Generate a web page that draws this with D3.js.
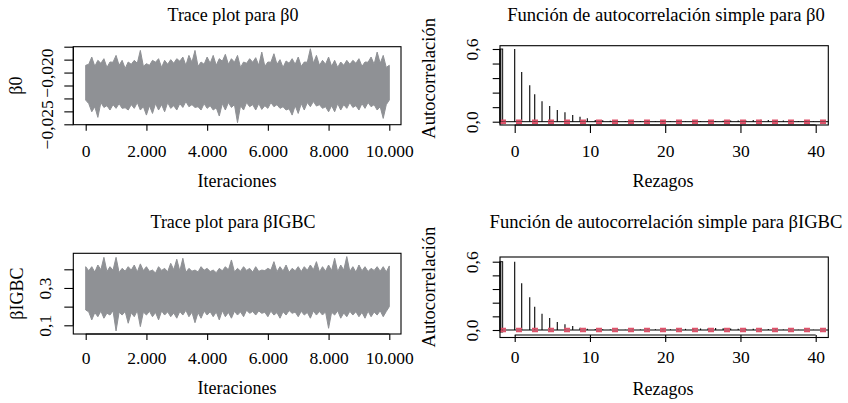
<!DOCTYPE html>
<html>
<head>
<meta charset="utf-8">
<script src="https://cdn.jsdelivr.net/npm/d3@7.9.0/dist/d3.min.js"></script>
<style>
  body { margin: 0; background: #fff; }
  svg text { font-family: "Liberation Serif", "Times New Roman", "DejaVu Serif", serif; fill: #000; }
</style>
</head>
<body>
<svg id="chart" width="848" height="403"></svg>
<script>
// ─────────── DATA ───────────
// trace envelopes: peaks read at every 200 iterations, dips in between
const iterations = [0,200,400,600,800,1000,1200,1400,1600,1800,2000,2200,2400,2600,2800,3000,3200,3400,3600,3800,4000,4200,4400,4600,4800,5000,5200,5400,5600,5800,6000,6200,6400,6600,6800,7000,7200,7400,7600,7800,8000,8200,8400,8600,8800,9000,9200,9400,9600,9800,10000];
const midIterations = [100,300,500,700,900,1100,1300,1500,1700,1900,2100,2300,2500,2700,2900,3100,3300,3500,3700,3900,4100,4300,4500,4700,4900,5100,5300,5500,5700,5900,6100,6300,6500,6700,6900,7100,7300,7500,7700,7900,8100,8300,8500,8700,8900,9100,9300,9500,9700,9900];

const b0Upper = [-0.0193,-0.0185,-0.01882,-0.01866,-0.01898,-0.01834,-0.01882,-0.01898,-0.01882,-0.01786,-0.01914,-0.01882,-0.01866,-0.01882,-0.01875,-0.01866,-0.0185,-0.01834,-0.01786,-0.01898,-0.0185,-0.01834,-0.01866,-0.01824,-0.01866,-0.01834,-0.01898,-0.01866,-0.01856,-0.01802,-0.01898,-0.01818,-0.01875,-0.01888,-0.01866,-0.0185,-0.01898,-0.0177,-0.01834,-0.01882,-0.0185,-0.01882,-0.01898,-0.01882,-0.01882,-0.01866,-0.01898,-0.0185,-0.01802,-0.01834,-0.0193];
const b0UpperMid = [-0.0192,-0.0194,-0.0191,-0.0195,-0.0190,-0.0193,-0.0196,-0.0192,-0.0191,-0.0194,-0.0193,-0.0190,-0.0195,-0.0192,-0.0191,-0.0189,-0.0193,-0.0190,-0.0194,-0.0192,-0.0191,-0.0193,-0.0189,-0.0192,-0.0190,-0.0195,-0.0191,-0.0190,-0.0193,-0.0194,-0.0190,-0.0192,-0.0195,-0.0191,-0.0192,-0.0194,-0.0190,-0.0191,-0.0193,-0.0192,-0.0194,-0.0195,-0.0193,-0.0192,-0.0191,-0.0194,-0.0190,-0.0192,-0.0191,-0.0195];
const b0Lower = [-0.02266,-0.02379,-0.02433,-0.02337,-0.02362,-0.02346,-0.02346,-0.02362,-0.02346,-0.02362,-0.02411,-0.02395,-0.02362,-0.02379,-0.02346,-0.02362,-0.02337,-0.0233,-0.02337,-0.02362,-0.02346,-0.02362,-0.0242,-0.02362,-0.02337,-0.02484,-0.02362,-0.0233,-0.02362,-0.02356,-0.02346,-0.0233,-0.02346,-0.02362,-0.02411,-0.02395,-0.02362,-0.0233,-0.02324,-0.02346,-0.02379,-0.02379,-0.02362,-0.02346,-0.02337,-0.02362,-0.02346,-0.0233,-0.02362,-0.02443,-0.02266];
const b0LowerMid = [-0.0230,-0.0233,-0.0229,-0.0232,-0.0231,-0.0230,-0.0234,-0.0231,-0.0229,-0.0233,-0.0232,-0.0230,-0.0231,-0.0229,-0.0232,-0.0230,-0.0228,-0.0231,-0.0233,-0.0230,-0.0232,-0.0234,-0.0230,-0.0229,-0.0231,-0.0232,-0.0229,-0.0231,-0.0230,-0.0232,-0.0229,-0.0231,-0.0233,-0.0235,-0.0232,-0.0230,-0.0229,-0.0228,-0.0231,-0.0233,-0.0232,-0.0230,-0.0231,-0.0229,-0.0232,-0.0230,-0.0229,-0.0231,-0.0233,-0.0231];

const igbcUpper = [0.414,0.414,0.423,0.464,0.414,0.464,0.405,0.414,0.423,0.429,0.414,0.396,0.414,0.405,0.432,0.454,0.459,0.405,0.396,0.414,0.405,0.396,0.405,0.414,0.45,0.405,0.414,0.405,0.414,0.396,0.405,0.441,0.414,0.423,0.405,0.414,0.414,0.423,0.441,0.414,0.423,0.459,0.423,0.468,0.414,0.423,0.414,0.405,0.414,0.414,0.418];
const igbcUpperMid = [0.392,0.385,0.398,0.388,0.395,0.383,0.390,0.396,0.386,0.393,0.389,0.380,0.394,0.387,0.398,0.391,0.384,0.390,0.386,0.395,0.388,0.382,0.392,0.397,0.386,0.390,0.394,0.385,0.389,0.393,0.396,0.387,0.391,0.384,0.392,0.388,0.395,0.398,0.386,0.390,0.393,0.387,0.396,0.389,0.385,0.392,0.388,0.394,0.390,0.386];
const igbcLower = [0.182,0.129,0.146,0.138,0.155,0.07,0.155,0.111,0.146,0.093,0.155,0.146,0.129,0.155,0.146,0.138,0.155,0.146,0.114,0.138,0.155,0.146,0.129,0.146,0.138,0.155,0.146,0.164,0.155,0.164,0.146,0.155,0.138,0.155,0.164,0.146,0.155,0.138,0.155,0.155,0.084,0.155,0.138,0.146,0.155,0.146,0.138,0.146,0.155,0.146,0.2];
const igbcLowerMid = [0.172,0.168,0.176,0.165,0.178,0.170,0.174,0.167,0.179,0.171,0.175,0.169,0.177,0.172,0.166,0.174,0.180,0.170,0.168,0.176,0.173,0.171,0.178,0.169,0.175,0.172,0.181,0.174,0.177,0.170,0.176,0.168,0.173,0.179,0.171,0.175,0.169,0.177,0.174,0.172,0.170,0.178,0.166,0.175,0.173,0.169,0.176,0.171,0.178,0.174];

// autocorrelation by lag
const lags = [0,0.93,2,2.66,3.63,4.65,5.66,6.68,7.71,8.68,9.65,10.7,11.7,12.7,13.7,14.7,15.7,16.7,17.7,18.7,19.7,20.7,21.7,22.7,23.7,24.7,25.7,26.7,27.7,28.7,29.7,30.7,31.7,32.7,33.7,34.7,35.7,36.7,37.7,38.7,39.7];
const acfB0 = [0.6,0.41,0.30,0.226,0.168,0.13,0.096,0.078,0.055,0.041,0.028,0.015,0.012,0.008,0.006,0.005,0.004,0.006,0.005,0.004,0.006,0.005,0.003,0.004,0.006,0.005,0.004,0.006,0.008,0.009,0.01,0.012,0.014,0.016,0.014,0.012,0.01,0.008,0.006,0.005,0.004];
const acfIgbc = [0.6,0.41,0.287,0.205,0.143,0.105,0.07,0.05,0.035,0.02,0.012,0.008,0.006,0.005,0.004,0.003,0.004,0.005,0.004,0.006,0.005,0.006,0.008,0.01,0.012,0.014,0.016,0.018,0.016,0.014,0.012,0.01,0.012,0.01,0.008,0.006,0.005,0.004,0.003,0.002,0.002];
const ciBound = 0.01;

// ticks and labels
const traceXTicks = [0,2000,4000,6000,8000,10000];
const traceXLabels = ["0","2.000","4.000","6.000","8.000","10.000"];
const b0YTicks = [-0.0175,-0.01875,-0.02,-0.02125,-0.0225,-0.02375,-0.025];
const b0YLabels = {"-0.02": "\u22120,020", "-0.025": "\u22120,025"};
const igbcYTicks = [0.1,0.2,0.3,0.4];
const igbcYLabels = {"0.1": "0,1", "0.3": "0,3"};
const acfXTicks = [0,10,20,30,40];
const acfYTicks = [0,0.12,0.24,0.36,0.48,0.6];
const acfYLabels = {"0": "0,0", "0.6": "0,6"};

const traceColor = "#8f9195";
const ciColor = "#DF536B";
const FONT = '"Liberation Serif", "Times New Roman", "DejaVu Serif", serif';
const FS = 18;      // titles, axis titles
const TFS = 17.5;   // tick labels

const svg = d3.select("#chart");

// ─────────── helpers ───────────
function box(g, b) {
  g.append("rect")
    .attr("x", b.left).attr("y", b.top)
    .attr("width", b.right - b.left).attr("height", b.bottom - b.top)
    .attr("fill", "none").attr("stroke", "#000").attr("stroke-width", 1.1);
}

function bottomAxis(g, x, ticks, labels, yPos, tickLen, baseline) {
  const ax = g.append("g")
    .attr("transform", `translate(0,${yPos})`)
    .call(d3.axisBottom(x).tickValues(ticks).tickSize(tickLen).tickSizeOuter(0)
      .tickFormat((d, i) => labels[i]));
  ax.select(".domain").attr("d", `M${x(ticks[0])},0H${x(ticks[ticks.length - 1])}`)
    .attr("stroke-width", 1.1);
  ax.selectAll(".tick line").attr("stroke-width", 1.1);
  ax.selectAll(".tick text").attr("y", baseline).attr("dy", null)
    .style("font-family", FONT).style("font-size", TFS + "px");
}

function leftAxis(g, y, ticks, labels, xPos, tickLen, offset) {
  const ax = g.append("g")
    .attr("transform", `translate(${xPos},0)`)
    .call(d3.axisLeft(y).tickValues(ticks).tickSize(tickLen).tickSizeOuter(0)
      .tickFormat(d => labels[String(d)] || ""));
  ax.select(".domain").attr("d", `M0,${y(ticks[0])}V${y(ticks[ticks.length - 1])}`)
    .attr("stroke-width", 1.1);
  ax.selectAll(".tick line").attr("stroke-width", 1.1);
  ax.selectAll(".tick text")
    .attr("x", null).attr("dy", null).attr("y", null)
    .attr("text-anchor", "middle")
    .attr("transform", `translate(${-offset},0) rotate(-90)`)
    .style("font-family", FONT).style("font-size", TFS + "px");
}

function label(text, x, y, rotate, size) {
  svg.append("text")
    .attr("text-anchor", "middle")
    .attr("transform", `translate(${x},${y})` + (rotate ? " rotate(-90)" : ""))
    .style("font-family", FONT).style("font-size", (size || FS) + "px")
    .text(text);
}

// ─────────── TRACE PLOTS ───────────
function drawTrace(o) {
  const g = svg.append("g");
  const x = d3.scaleLinear().domain([0, 10000]).range([85.7, 389.3]);
  const y = d3.scaleLinear().domain(o.yDomain).range(o.yRange);

  // peaks and dips merged in iteration order
  const pts = iterations.map((it, i) => ({ it, hi: o.upper[i], lo: o.lower[i] }))
    .concat(midIterations.map((it, i) => ({ it, hi: o.upperMid[i], lo: o.lowerMid[i] })))
    .sort((a, b) => a.it - b.it);

  const area = d3.area()
    .x(d => x(d.it))
    .y0(d => y(d.lo))
    .y1(d => y(d.hi));

  g.append("path")
    .datum(pts)
    .attr("d", area)
    .attr("fill", traceColor)
    .attr("stroke", traceColor)
    .attr("stroke-width", 1)
    .attr("stroke-linejoin", "miter")
    .attr("stroke-miterlimit", 10);

  box(g, o.box);
  bottomAxis(g, x, traceXTicks, traceXLabels, o.box.bottom, 6, o.xTickBase);
  leftAxis(g, y, o.yTicks, o.yLabels, o.box.left, 9, o.yTickOff);

  label(o.title, 233, o.titleY);
  label("Iteraciones", 237, o.xlabY);
  label(o.ylab, o.ylabX, (o.box.top + o.box.bottom) / 2, true);
}

drawTrace({
  box: { left: 73.3, top: 46.7, right: 401, bottom: 124.7 },
  yDomain: [-0.025, -0.0175], yRange: [124.3, 46.7],
  upper: b0Upper, lower: b0Lower, upperMid: b0UpperMid, lowerMid: b0LowerMid,
  yTicks: b0YTicks, yLabels: b0YLabels, yTickOff: 20.5,
  xTickBase: 32, title: "Trace plot para \u03b20", titleY: 20.7,
  xlabY: 186.7, ylab: "\u03b20", ylabX: 22
});

drawTrace({
  box: { left: 73.3, top: 253.3, right: 401, bottom: 334 },
  yDomain: [0.1, 0.4], yRange: [325.3, 269.3],
  upper: igbcUpper, lower: igbcLower, upperMid: igbcUpperMid, lowerMid: igbcLowerMid,
  yTicks: igbcYTicks, yLabels: igbcYLabels, yTickOff: 22,
  xTickBase: 29.5, title: "Trace plot para \u03b2IGBC", titleY: 228.3,
  xlabY: 394.3, ylab: "\u03b2IGBC", ylabX: 22.5
});

// ─────────── ACF PLOTS ───────────
function drawAcf(o) {
  const g = svg.append("g");
  const b = o.box;
  const x = d3.scaleLinear().domain([0, 40]).range([514.7, 815.7]);
  const y = d3.scaleLinear().domain([0, 0.6]).range(o.yRange);

  // left edge band
  g.append("rect")
    .attr("x", b.left).attr("y", y(0.6))
    .attr("width", 2.7).attr("height", y(0) - y(0.6) + 2)
    .attr("fill", "#a9a9a9").attr("stroke", "#000").attr("stroke-width", 0.9);

  g.selectAll("line.bar")
    .data(o.values)
    .join("line")
    .attr("class", "bar")
    .attr("x1", (d, i) => x(lags[i])).attr("x2", (d, i) => x(lags[i]))
    .attr("y1", y(0)).attr("y2", d => y(d))
    .attr("stroke", "#000").attr("stroke-width", 1.1);

  g.append("line")
    .attr("x1", b.left).attr("x2", b.right)
    .attr("y1", y(0)).attr("y2", y(0))
    .attr("stroke", "#000").attr("stroke-width", 1);

  [ciBound, -ciBound].forEach(c => {
    g.append("line")
      .attr("x1", b.left).attr("x2", b.right)
      .attr("y1", y(c)).attr("y2", y(c))
      .attr("stroke", ciColor).attr("stroke-width", 2)
      .attr("stroke-dasharray", "6,10");
  });

  box(g, b);
  bottomAxis(g, x, acfXTicks, acfXTicks.map(String), o.axisY, o.xTickLen, o.xTickBase);
  leftAxis(g, y, acfYTicks, acfYLabels, b.left, 7.3, 22);

  label(o.title, 666, o.titleY, false, 18.6);
  label("Rezagos", 663, o.xlabY);
  label("Autocorrelaci\u00f3n", 435, o.ylabY, true, 18.6);
}

drawAcf({
  box: { left: 500, top: 45.7, right: 828.3, bottom: 125 },
  yRange: [121.7, 49], values: acfB0,
  axisY: 125, xTickLen: 8, xTickBase: 31.7,
  title: "Funci\u00f3n de autocorrelaci\u00f3n simple para \u03b20", titleY: 20.7,
  xlabY: 187.3, ylabY: 78.3
});

drawAcf({
  box: { left: 500, top: 257, right: 828.3, bottom: 337.5 },
  yRange: [330, 261.7], values: acfIgbc,
  axisY: 335, xTickLen: 7, xTickBase: 28.3,
  title: "Funci\u00f3n de autocorrelaci\u00f3n simple para \u03b2IGBC", titleY: 228.3,
  xlabY: 395, ylabY: 287
});
</script>
</body>
</html>
